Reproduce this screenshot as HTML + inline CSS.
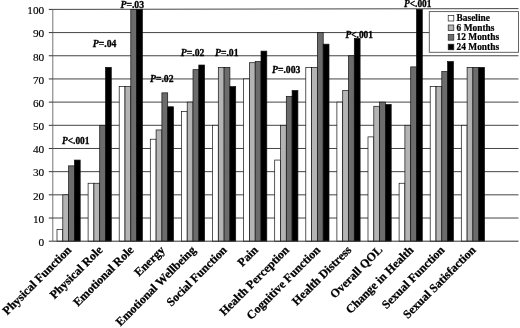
<!DOCTYPE html>
<html><head><meta charset="utf-8"><title>Chart</title>
<style>
html,body{margin:0;padding:0;background:#fff}
body{width:520px;height:328px;overflow:hidden}
text{font-family:"Liberation Serif",serif;fill:#000}
.yl{font-size:11.3px;stroke:#000;stroke-width:0.15px}
.xl{font-size:12px;font-weight:bold;stroke:#000;stroke-width:0.25px}
.pl{font-size:9.7px;font-weight:bold;stroke:#000;stroke-width:0.3px}
.lg{font-size:9.4px;font-weight:bold;stroke:#000;stroke-width:0.2px}
</style></head><body>
<svg width="520" height="328" viewBox="0 0 520 328" style="display:block">
<rect width="520" height="328" fill="#fff"/>
<line x1="52.8" x2="518.5" y1="218.02" y2="218.02" stroke="#3a3a3a" stroke-width="0.95"/>
<line x1="52.8" x2="518.5" y1="194.84" y2="194.84" stroke="#3a3a3a" stroke-width="0.95"/>
<line x1="52.8" x2="518.5" y1="171.66" y2="171.66" stroke="#3a3a3a" stroke-width="0.95"/>
<line x1="52.8" x2="518.5" y1="148.48" y2="148.48" stroke="#3a3a3a" stroke-width="0.95"/>
<line x1="52.8" x2="518.5" y1="125.30" y2="125.30" stroke="#3a3a3a" stroke-width="0.95"/>
<line x1="52.8" x2="518.5" y1="102.12" y2="102.12" stroke="#3a3a3a" stroke-width="0.95"/>
<line x1="52.8" x2="518.5" y1="78.94" y2="78.94" stroke="#3a3a3a" stroke-width="0.95"/>
<line x1="52.8" x2="518.5" y1="55.76" y2="55.76" stroke="#3a3a3a" stroke-width="0.95"/>
<line x1="52.8" x2="518.5" y1="32.58" y2="32.58" stroke="#3a3a3a" stroke-width="0.95"/>
<line x1="52.8" x2="518.5" y1="9.40" y2="8.60" stroke="#3a3a3a" stroke-width="0.95"/>
<rect x="57.00" y="229.61" width="5.8" height="11.59" fill="#ffffff" stroke="#111" stroke-width="0.7"/>
<rect x="62.80" y="194.84" width="5.8" height="46.36" fill="#b4b4b4" stroke="#111" stroke-width="0.7"/>
<rect x="68.60" y="165.87" width="5.8" height="75.33" fill="#6c6c6c" stroke="#111" stroke-width="0.7"/>
<rect x="74.40" y="160.07" width="5.8" height="81.13" fill="#000000" stroke="#111" stroke-width="0.7"/>
<rect x="88.10" y="183.25" width="5.8" height="57.95" fill="#ffffff" stroke="#111" stroke-width="0.7"/>
<rect x="93.90" y="183.25" width="5.8" height="57.95" fill="#b4b4b4" stroke="#111" stroke-width="0.7"/>
<rect x="99.70" y="125.30" width="5.8" height="115.90" fill="#6c6c6c" stroke="#111" stroke-width="0.7"/>
<rect x="105.50" y="67.35" width="5.8" height="173.85" fill="#000000" stroke="#111" stroke-width="0.7"/>
<rect x="119.20" y="86.59" width="5.8" height="154.61" fill="#ffffff" stroke="#111" stroke-width="0.7"/>
<rect x="125.00" y="86.59" width="5.8" height="154.61" fill="#b4b4b4" stroke="#111" stroke-width="0.7"/>
<rect x="130.80" y="9.40" width="5.8" height="231.80" fill="#6c6c6c" stroke="#111" stroke-width="0.7"/>
<rect x="136.60" y="9.40" width="5.8" height="231.80" fill="#000000" stroke="#111" stroke-width="0.7"/>
<rect x="150.30" y="139.21" width="5.8" height="101.99" fill="#ffffff" stroke="#111" stroke-width="0.7"/>
<rect x="156.10" y="129.94" width="5.8" height="111.26" fill="#b4b4b4" stroke="#111" stroke-width="0.7"/>
<rect x="161.90" y="92.85" width="5.8" height="148.35" fill="#6c6c6c" stroke="#111" stroke-width="0.7"/>
<rect x="167.70" y="106.76" width="5.8" height="134.44" fill="#000000" stroke="#111" stroke-width="0.7"/>
<rect x="181.40" y="111.39" width="5.8" height="129.81" fill="#ffffff" stroke="#111" stroke-width="0.7"/>
<rect x="187.20" y="102.12" width="5.8" height="139.08" fill="#b4b4b4" stroke="#111" stroke-width="0.7"/>
<rect x="193.00" y="69.67" width="5.8" height="171.53" fill="#6c6c6c" stroke="#111" stroke-width="0.7"/>
<rect x="198.80" y="65.03" width="5.8" height="176.17" fill="#000000" stroke="#111" stroke-width="0.7"/>
<rect x="212.50" y="125.30" width="5.8" height="115.90" fill="#ffffff" stroke="#111" stroke-width="0.7"/>
<rect x="218.30" y="67.35" width="5.8" height="173.85" fill="#b4b4b4" stroke="#111" stroke-width="0.7"/>
<rect x="224.10" y="67.35" width="5.8" height="173.85" fill="#6c6c6c" stroke="#111" stroke-width="0.7"/>
<rect x="229.90" y="86.59" width="5.8" height="154.61" fill="#000000" stroke="#111" stroke-width="0.7"/>
<rect x="243.60" y="78.94" width="5.8" height="162.26" fill="#ffffff" stroke="#111" stroke-width="0.7"/>
<rect x="249.40" y="62.71" width="5.8" height="178.49" fill="#b4b4b4" stroke="#111" stroke-width="0.7"/>
<rect x="255.20" y="61.55" width="5.8" height="179.65" fill="#6c6c6c" stroke="#111" stroke-width="0.7"/>
<rect x="261.00" y="51.12" width="5.8" height="190.08" fill="#000000" stroke="#111" stroke-width="0.7"/>
<rect x="274.70" y="160.07" width="5.8" height="81.13" fill="#ffffff" stroke="#111" stroke-width="0.7"/>
<rect x="280.50" y="125.30" width="5.8" height="115.90" fill="#b4b4b4" stroke="#111" stroke-width="0.7"/>
<rect x="286.30" y="96.33" width="5.8" height="144.87" fill="#6c6c6c" stroke="#111" stroke-width="0.7"/>
<rect x="292.10" y="90.53" width="5.8" height="150.67" fill="#000000" stroke="#111" stroke-width="0.7"/>
<rect x="305.80" y="67.35" width="5.8" height="173.85" fill="#ffffff" stroke="#111" stroke-width="0.7"/>
<rect x="311.60" y="67.35" width="5.8" height="173.85" fill="#b4b4b4" stroke="#111" stroke-width="0.7"/>
<rect x="317.40" y="32.58" width="5.8" height="208.62" fill="#6c6c6c" stroke="#111" stroke-width="0.7"/>
<rect x="323.20" y="44.17" width="5.8" height="197.03" fill="#000000" stroke="#111" stroke-width="0.7"/>
<rect x="336.90" y="102.12" width="5.8" height="139.08" fill="#ffffff" stroke="#111" stroke-width="0.7"/>
<rect x="342.70" y="90.53" width="5.8" height="150.67" fill="#b4b4b4" stroke="#111" stroke-width="0.7"/>
<rect x="348.50" y="55.76" width="5.8" height="185.44" fill="#6c6c6c" stroke="#111" stroke-width="0.7"/>
<rect x="354.30" y="38.38" width="5.8" height="202.82" fill="#000000" stroke="#111" stroke-width="0.7"/>
<rect x="368.00" y="136.89" width="5.8" height="104.31" fill="#ffffff" stroke="#111" stroke-width="0.7"/>
<rect x="373.80" y="106.29" width="5.8" height="134.91" fill="#b4b4b4" stroke="#111" stroke-width="0.7"/>
<rect x="379.60" y="102.12" width="5.8" height="139.08" fill="#6c6c6c" stroke="#111" stroke-width="0.7"/>
<rect x="385.40" y="104.44" width="5.8" height="136.76" fill="#000000" stroke="#111" stroke-width="0.7"/>
<rect x="399.10" y="183.25" width="5.8" height="57.95" fill="#ffffff" stroke="#111" stroke-width="0.7"/>
<rect x="404.90" y="125.30" width="5.8" height="115.90" fill="#b4b4b4" stroke="#111" stroke-width="0.7"/>
<rect x="410.70" y="66.89" width="5.8" height="174.31" fill="#6c6c6c" stroke="#111" stroke-width="0.7"/>
<rect x="416.50" y="9.40" width="5.8" height="231.80" fill="#000000" stroke="#111" stroke-width="0.7"/>
<rect x="430.20" y="86.59" width="5.8" height="154.61" fill="#ffffff" stroke="#111" stroke-width="0.7"/>
<rect x="436.00" y="86.59" width="5.8" height="154.61" fill="#b4b4b4" stroke="#111" stroke-width="0.7"/>
<rect x="441.80" y="71.52" width="5.8" height="169.68" fill="#6c6c6c" stroke="#111" stroke-width="0.7"/>
<rect x="447.60" y="61.55" width="5.8" height="179.65" fill="#000000" stroke="#111" stroke-width="0.7"/>
<rect x="461.30" y="125.30" width="5.8" height="115.90" fill="#ffffff" stroke="#111" stroke-width="0.7"/>
<rect x="467.10" y="67.35" width="5.8" height="173.85" fill="#b4b4b4" stroke="#111" stroke-width="0.7"/>
<rect x="472.90" y="67.35" width="5.8" height="173.85" fill="#6c6c6c" stroke="#111" stroke-width="0.7"/>
<rect x="478.70" y="67.35" width="5.8" height="173.85" fill="#000000" stroke="#111" stroke-width="0.7"/>
<line x1="52.8" x2="52.8" y1="9.4" y2="241.2" stroke="#666" stroke-width="0.9"/>
<line x1="52.8" x2="518.5" y1="241.2" y2="241.2" stroke="#333" stroke-width="1"/>
<line x1="48.8" x2="52.8" y1="241.20" y2="241.20" stroke="#333" stroke-width="1"/>
<text x="44.2" y="246.00" text-anchor="end" class="yl">0</text>
<line x1="48.8" x2="52.8" y1="218.02" y2="218.02" stroke="#333" stroke-width="1"/>
<text x="44.2" y="222.82" text-anchor="end" class="yl">10</text>
<line x1="48.8" x2="52.8" y1="194.84" y2="194.84" stroke="#333" stroke-width="1"/>
<text x="44.2" y="199.64" text-anchor="end" class="yl">20</text>
<line x1="48.8" x2="52.8" y1="171.66" y2="171.66" stroke="#333" stroke-width="1"/>
<text x="44.2" y="176.46" text-anchor="end" class="yl">30</text>
<line x1="48.8" x2="52.8" y1="148.48" y2="148.48" stroke="#333" stroke-width="1"/>
<text x="44.2" y="153.28" text-anchor="end" class="yl">40</text>
<line x1="48.8" x2="52.8" y1="125.30" y2="125.30" stroke="#333" stroke-width="1"/>
<text x="44.2" y="130.10" text-anchor="end" class="yl">50</text>
<line x1="48.8" x2="52.8" y1="102.12" y2="102.12" stroke="#333" stroke-width="1"/>
<text x="44.2" y="106.92" text-anchor="end" class="yl">60</text>
<line x1="48.8" x2="52.8" y1="78.94" y2="78.94" stroke="#333" stroke-width="1"/>
<text x="44.2" y="83.74" text-anchor="end" class="yl">70</text>
<line x1="48.8" x2="52.8" y1="55.76" y2="55.76" stroke="#333" stroke-width="1"/>
<text x="44.2" y="60.56" text-anchor="end" class="yl">80</text>
<line x1="48.8" x2="52.8" y1="32.58" y2="32.58" stroke="#333" stroke-width="1"/>
<text x="44.2" y="37.38" text-anchor="end" class="yl">90</text>
<line x1="48.8" x2="52.8" y1="9.40" y2="9.40" stroke="#333" stroke-width="1"/>
<text x="44.2" y="14.20" text-anchor="end" class="yl">100</text>
<text transform="translate(72.10,250.70) rotate(-45)" text-anchor="end" class="xl">Physical Function</text>
<text transform="translate(103.20,250.70) rotate(-45)" text-anchor="end" class="xl">Physical Role</text>
<text transform="translate(134.30,250.70) rotate(-45)" text-anchor="end" class="xl">Emotional Role</text>
<text transform="translate(165.40,250.70) rotate(-45)" text-anchor="end" class="xl">Energy</text>
<text transform="translate(196.50,250.70) rotate(-45)" text-anchor="end" class="xl">Emotional Wellbeing</text>
<text transform="translate(227.60,250.70) rotate(-45)" text-anchor="end" class="xl">Social Function</text>
<text transform="translate(258.70,250.70) rotate(-45)" text-anchor="end" class="xl">Pain</text>
<text transform="translate(289.80,250.70) rotate(-45)" text-anchor="end" class="xl">Health Perception</text>
<text transform="translate(320.90,250.70) rotate(-45)" text-anchor="end" class="xl">Cognitive Function</text>
<text transform="translate(352.00,250.70) rotate(-45)" text-anchor="end" class="xl">Health Distress</text>
<text transform="translate(383.10,250.70) rotate(-45)" text-anchor="end" class="xl">Overall QOL</text>
<text transform="translate(414.20,250.70) rotate(-45)" text-anchor="end" class="xl">Change in Health</text>
<text transform="translate(445.30,250.70) rotate(-45)" text-anchor="end" class="xl">Sexual Function</text>
<text transform="translate(476.40,250.70) rotate(-45)" text-anchor="end" class="xl">Sexual Satisfaction</text>
<text x="62" y="144.40" class="pl" style="font-size:9.4px"><tspan font-style="italic">P</tspan>&lt;.001</text>
<text x="92.8" y="47.00" class="pl"><tspan font-style="italic">P</tspan>=.04</text>
<text x="120.5" y="7.70" class="pl"><tspan font-style="italic">P</tspan>=.03</text>
<text x="150" y="81.70" class="pl"><tspan font-style="italic">P</tspan>=.02</text>
<text x="180.8" y="55.50" class="pl"><tspan font-style="italic">P</tspan>=.02</text>
<text x="215" y="55.50" class="pl"><tspan font-style="italic">P</tspan>=.01</text>
<text x="272" y="73.20" class="pl"><tspan font-style="italic">P</tspan>=.003</text>
<text x="345.5" y="37.70" class="pl" style="font-size:9.4px"><tspan font-style="italic">P</tspan>&lt;.001</text>
<text x="404" y="7.00" class="pl" style="font-size:9.4px"><tspan font-style="italic">P</tspan>&lt;.001</text>
<rect x="429.3" y="11.6" width="89.2" height="40.7" fill="#fff" stroke="#555" stroke-width="0.9"/>
<rect x="448.2" y="15.40" width="5.6" height="5.6" fill="#ffffff" stroke="#222" stroke-width="0.7"/>
<text x="456.6" y="20.90" class="lg">Baseline</text>
<rect x="448.2" y="25.00" width="5.6" height="5.6" fill="#b4b4b4" stroke="#222" stroke-width="0.7"/>
<text x="456.6" y="30.50" class="lg">6 Months</text>
<rect x="448.2" y="34.60" width="5.6" height="5.6" fill="#6c6c6c" stroke="#222" stroke-width="0.7"/>
<text x="456.6" y="40.10" class="lg">12 Months</text>
<rect x="448.2" y="44.20" width="5.6" height="5.6" fill="#000000" stroke="#222" stroke-width="0.7"/>
<text x="456.6" y="49.70" class="lg">24 Months</text>
</svg>
</body></html>
